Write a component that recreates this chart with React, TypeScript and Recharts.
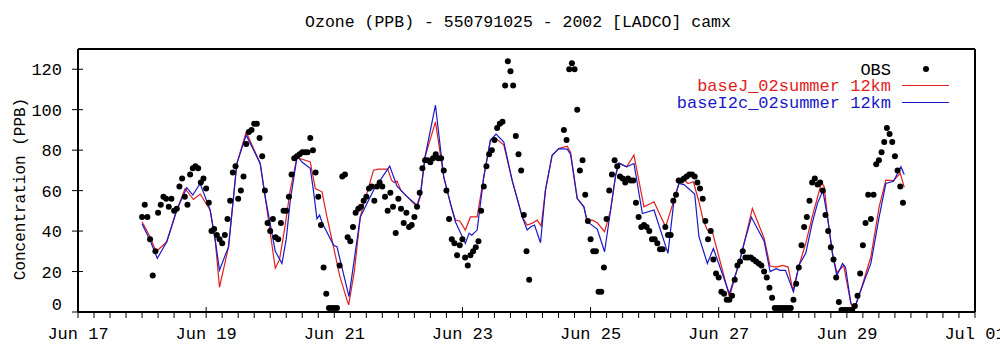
import React from 'react';
import { ComposedChart, Line, Scatter, XAxis, YAxis } from 'recharts';

const FONT = '"Liberation Mono", "DejaVu Sans Mono", monospace';
const RED = '#e01e1e';
const BLUE = '#1818c8';

const title = 'Ozone (PPB) - 550791025 - 2002 [LADCO] camx';
const yLabel = 'Concentration (PPB)';
const seriesNames = ['OBS', 'baseJ_02summer 12km', 'baseI2c_02summer 12km'];

// x axis is hours since Jun 17 00:00, one label every 2 days
const dateLabels = ['Jun 17', 'Jun 19', 'Jun 21', 'Jun 23', 'Jun 25', 'Jun 27', 'Jun 29', 'Jul 01'];
const yTicks = [0, 20, 40, 60, 80, 100, 120];

// hourly observations starting Jun 18 00:00 (hour 24)
const obsStartHour = 24;
const obsValues: (number | null)[] = [
  47, 53, 47, 36, 18, 30, 49, 53, 57, 56,
  52, 56, 50, 51, 62, 66, 57, 53, 68, 71,
  72, 71, 64, 66, 61, 54, 40, 41, 38, 36,
  34, 38, 46, 55, 69, 72, 56, 60, 67, 83,
  89, 90, 93, 93, 86, 77, 60, 44, 40, 46,
  37, 36, 44, 50, 50, 57, 68, 76, 77, 78,
  79, 79, 79, 86, 80, 69, 57, 43, 22, 9,
  2, 2, 2, 2, 23,
  67, 68, 37, 35, 42, 49, 51, 52, 55, 57,
  61, 62, 55, 62, 64, 62, 57, 50, 59, 52,
  39, 56, 51, 44, 49, 42, 43, 47, 52, 59,
  71, 75, 75, 74, 76, 78, 76, 76, 70, 60,
  46, 36, 34, 28, 33, 36, 27, 23, 28, 30,
  32, 35, 50, 62, 72, 78, 80, 85, 91, 93,
  94, 112, 124, 119, 112, 87, 78, 70, 48, 30,
  16,
  null, null, null, null, null, null, null, null, null, null, null, null,
  90, 85, 120, 123, 120, 100, 70, 75, 58, 45,
  36, 30, 30, 10, 10, 22, 46, 60, 68, 75,
  72, 67, 66, 64, 66, 65, 65, 54, 47, 42,
  43, 42, 40, 36, 36, 34, 31, 31, 42, 38,
  38, 55, 58, 65, 65, 66, 67, 68, 68, 67,
  64, 61, 56, 45, 36, 40, 26, 19, 17, 10,
  9, 6, 6, 8, 16, 23,
  25, 30, 27, 27, 27, 26, 25, 24, 23, 20,
  17, 12, 7, 2, 2, 2, 2, 2, 2, 2,
  6, 14, 22, 33, 42, 47, 55, 64, 66, 63,
  64, 60, 48, 40, 32, 26, 17, 5, 1, 1,
  1, 1, 1, 3, 8, 19, 33, 44, 58, 46,
  58, 73, 75, 79, 84, 91, 88, 84, 77, 70,
  62, 54,
];

// baseJ_02summer 12km (red)
const baseJHours = [
  24, 27, 29.25, 33.25, 37, 40.1, 43.25, 45.75, 49.5, 51.4, 53, 56.4, 59.5, 63, 68.25, 70.1,
  73.9, 75.5, 77.5, 79.5, 82, 87, 88.9, 91.4, 93.25, 95.75, 98, 100.75, 101.4, 103.5, 105.75,
  106.4, 110.7, 112.5, 116, 117.5, 118.5, 119.5, 121, 123.25, 127, 128.25, 130, 133.9, 137,
  139.5, 141.4, 143, 145.1, 147, 149.5, 152, 154.5, 156.6, 159.5, 162.6, 166.4, 168.25, 170,
  172, 173.5, 175.1, 177.6, 180.1, 183.25, 184.5, 187, 189.5, 190.75, 192.5, 194.5, 197.25,
  199.5, 201.4, 202.6, 205.5, 208.25, 212, 215.75, 220.1, 223.25, 225.1, 227, 228.5, 230.5,
  232.5, 234.2, 235.75, 237.6, 244, 247.6, 249.5, 252.6, 257, 259.25, 261.5, 264, 266, 267.8,
  270.1, 272.6, 275, 278.5, 279.5, 280.75, 282.6, 284.25, 286.8, 289.5, 290.5, 293.25, 297,
  300.1, 302.6, 305.5, 308, 309.5,
];
const baseJValues = [
  44.6, 37.2, 29.8, 34.7, 50.4, 61, 55.6, 58.3, 50.4, 35.5, 12.2, 32.3, 73.4, 89, 73.4, 57,
  21.6, 26, 42, 60.2, 76.4, 74.2, 61, 59.4, 47, 32, 18, 6, 3.5, 20, 47,
  50.4, 70.1, 70.6, 70.6, 65, 64, 64.7, 60, 57, 52, 57, 76.7, 94, 66.8,
  53.7, 45.4, 45, 40.5, 47, 47, 66.8, 85, 85.7, 82.5, 65.2, 47, 43, 43.8,
  45.4, 42.5, 60.2, 77.5, 80.8, 82, 79, 56.1, 52, 44.6, 45.5, 44.1, 39.7,
  50.4, 67.7, 73.4, 71.8, 77.5, 52, 54.5, 42.1, 55.3, 63.5, 65.2, 63.5, 64.4,
  55, 45.4, 40.5, 39.7, 7.6, 24, 33.9, 51.2, 36.5, 22.7, 22.2, 23, 22.2, 10.5,
  23.2, 33.9, 47, 63.9, 62, 47, 29, 19.4, 23, 4.3, 0.5, 10.9, 27.3,
  52, 65.2, 65, 68.5, 61.6,
];

// baseI2c_02summer 12km (blue)
const baseIHours = [
  24, 27, 29.7, 33.25, 37, 40.75, 43, 45.75, 49.5, 51.4, 53, 56.4, 59.5, 63, 68.25, 70.1,
  73.9, 76.4, 78, 79.5, 82.1, 84, 87, 88.2, 89.5, 90.5, 91.5, 95.75, 97, 101.5, 105.75,
  110.7, 116.75, 119.5, 123.25, 127, 128.25, 130, 133.9, 137, 139.5, 141.4, 145.1, 146.5,
  147.5, 149.5, 152, 154.5, 156.6, 159.5, 162.6, 166.4, 168.25, 169.5, 171, 173.25, 175.1,
  177.6, 180.1, 183.25, 184.5, 187, 189.5, 190.75, 194.5, 197.25, 199.5, 201.4, 202.6, 205.5,
  208.25, 211.4, 215.75, 221, 223.25, 225.1, 227, 231, 232.6, 235.75, 238, 244, 247.6, 249.5,
  252.25, 257, 259.25, 261.5, 263, 265, 268, 270.1, 272.6, 275, 277, 279, 280.75, 282.6,
  284.25, 286.4, 287.5, 289.5, 291, 293.25, 297, 300.1, 302.6, 305.5, 308.25, 309.5,
];
const baseIValues = [
  43.5, 35.5, 26.5, 34.7, 50.4, 61.5, 57.8, 63.5, 50.4, 35.5, 20.7, 32.3, 73.4, 87.4, 73.4, 57,
  30, 24, 36, 55, 77, 74, 71, 60, 46, 47.9, 44, 33, 32.3, 7.6, 47,
  60.2, 72.1, 62.2, 57, 52.8, 58, 76.7, 102.2, 66.8, 53.7, 44.5, 33.9, 39,
  38, 40.5, 66.8, 85, 87.9, 84, 65.2, 47, 40.5, 42, 43, 34.2, 60.2,
  77.5, 80.8, 80.5, 78, 56.1, 52, 44.6, 41, 29.8, 50.4, 67.7, 73.7, 71.8,
  73.4, 48.7, 50.4, 29, 55.3, 63.5, 63, 58.3, 37.2, 24, 31.4, 9, 24, 33.9,
  46.8, 35, 20, 21.4, 20.6, 20.6, 10, 23.2, 29, 43.8, 53.7, 60, 47, 29,
  18, 24, 22, 4.3, 2.3, 10.9, 24, 47, 63.5, 64.6, 71.8, 68,
];

const HOURS_PER_LABEL = 48;
const xMax = (dateLabels.length - 1) * HOURS_PER_LABEL;
const xTicks = Array.from({ length: xMax / 6 + 1 }, (_, i) => i * 6);

const obsData = obsValues
  .map((v, i) => ({ h: obsStartHour + i, v }))
  .filter((d) => d.v !== null);
const baseJData = baseJHours.map((h, i) => ({ h, v: baseJValues[i] }));
const baseIData = baseIHours.map((h, i) => ({ h, v: baseIValues[i] }));

const tickText = { fontSize: 17, fontFamily: FONT, fill: '#000' };

function BottomTick({ x, y, payload }: any) {
  const major = payload.value % HOURS_PER_LABEL === 0;
  return (
    <g>
      <line x1={x} x2={x} y1={y} y2={y - (major ? 11 : 5)} stroke="#000" />
      {major && (
        <text x={x} y={y + 21} textAnchor="middle" {...tickText}>
          {dateLabels[payload.value / HOURS_PER_LABEL]}
        </text>
      )}
    </g>
  );
}

function TopTick({ x, y, payload }: any) {
  const major = payload.value % HOURS_PER_LABEL === 0;
  return <line x1={x} x2={x} y1={y} y2={y + (major ? 11 : 5)} stroke="#000" />;
}

function LeftTick({ x, y, payload }: any) {
  const dy = payload.value === 0 ? -2 : 6;
  return (
    <g>
      <line x1={x} x2={x + 11} y1={y} y2={y} stroke="#000" />
      <text x={x - 10} y={y + dy} textAnchor="end" {...tickText}>
        {payload.value}
      </text>
    </g>
  );
}

function RightTick({ x, y }: any) {
  return <line x1={x} x2={x - 10} y1={y} y2={y} stroke="#000" />;
}

const frame = { stroke: '#000', strokeWidth: 2 };

export default function App() {
  return (
    <div style={{ position: 'absolute', left: 0, top: 0, width: 1000, height: 347, background: '#fff' }}>
      <ComposedChart width={1000} height={347} margin={{ top: 48, right: 24, left: 0, bottom: 0 }}>
        <XAxis
          dataKey="h"
          type="number"
          domain={[0, xMax]}
          ticks={xTicks}
          interval={0}
          height={35}
          tickLine={false}
          tickMargin={0}
          axisLine={frame}
          tick={<BottomTick />}
        />
        <XAxis
          xAxisId="top"
          orientation="top"
          dataKey="h"
          type="number"
          domain={[0, xMax]}
          ticks={xTicks}
          interval={0}
          height={1}
          tickLine={false}
          tickMargin={0}
          axisLine={frame}
          tick={<TopTick />}
        />
        <YAxis
          dataKey="v"
          type="number"
          domain={[0, 130]}
          ticks={yTicks}
          interval={0}
          width={78}
          tickLine={false}
          tickMargin={0}
          axisLine={frame}
          tick={<LeftTick />}
        />
        <YAxis
          yAxisId="right"
          orientation="right"
          dataKey="v"
          type="number"
          domain={[0, 130]}
          ticks={yTicks}
          interval={0}
          width={1}
          tickLine={false}
          tickMargin={0}
          axisLine={frame}
          tick={<RightTick />}
        />
        <Line
          data={baseJData}
          dataKey="v"
          type="linear"
          stroke={RED}
          strokeWidth={1.2}
          dot={false}
          isAnimationActive={false}
        />
        <Line
          data={baseIData}
          dataKey="v"
          type="linear"
          stroke={BLUE}
          strokeWidth={1.2}
          dot={false}
          isAnimationActive={false}
        />
        <Scatter
          data={obsData}
          dataKey="v"
          fill="#000"
          isAnimationActive={false}
          shape={(p: any) => <circle cx={p.cx} cy={p.cy} r={3} fill="#000" />}
        />
      </ComposedChart>
      <svg
        width={1000}
        height={347}
        style={{ position: 'absolute', left: 0, top: 0, pointerEvents: 'none' }}
      >
        <text x={518} y={27} textAnchor="middle" fontSize={16.5} fontFamily={FONT} fill="#000">
          {title}
        </text>
        <text
          x={25}
          y={189}
          transform="rotate(-90 25 189)"
          textAnchor="middle"
          fontSize={16}
          fontFamily={FONT}
          fill="#000"
        >
          {yLabel}
        </text>
        <text x={891} y={75} textAnchor="end" fontSize={17} fontFamily={FONT} fill="#000">
          {seriesNames[0]}
        </text>
        <circle cx={926} cy={69} r={3} fill="#000" />
        <text x={891} y={91} textAnchor="end" fontSize={17} fontFamily={FONT} fill={RED}>
          {seriesNames[1]}
        </text>
        <line x1={902} x2={949} y1={85.5} y2={85.5} stroke={RED} strokeWidth={1.2} />
        <text x={891} y={108} textAnchor="end" fontSize={17} fontFamily={FONT} fill={BLUE}>
          {seriesNames[2]}
        </text>
        <line x1={902} x2={949} y1={102.5} y2={102.5} stroke={BLUE} strokeWidth={1.2} />
      </svg>
    </div>
  );
}
